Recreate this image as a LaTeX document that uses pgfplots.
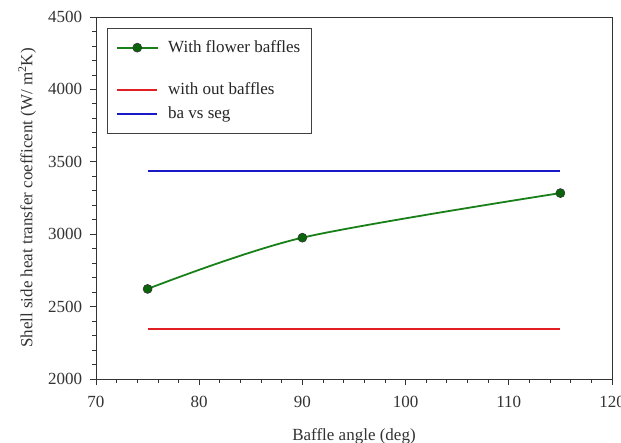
\documentclass[border=0pt]{standalone}
\usepackage{fontspec}
\setmainfont{Liberation Serif}
\usepackage{pgfplots}
\pgfplotsset{compat=1.18}
\definecolor{cgreen}{RGB}{25,128,25}
\definecolor{cmark}{RGB}{10,100,10}
\definecolor{cred}{RGB}{225,30,35}
\definecolor{cblue}{RGB}{25,25,200}
\begin{document}
\fontsize{17}{20}\selectfont
\begin{tikzpicture}
\useasboundingbox (-96pt,-63pt) rectangle (525pt,379pt);
\begin{axis}[
 at={(0,0)}, anchor=south west,
 scale only axis, width=516pt, height=362pt,
 xmin=70,xmax=120,ymin=2000,ymax=4500,
 xtick={70,80,...,120}, ytick={2000,2500,...,4500},
 minor x tick num=4, minor y tick num=4,
 tick align=outside, tick pos=left,
 major tick length=6pt, minor tick length=3.5pt,
 axis line style={draw=black!80, line width=0.8pt},
 every tick/.style={black!80, line width=0.8pt},
 /pgf/number format/assume math mode=true,
 /pgf/number format/1000 sep={},
 tick label style={font=\fontsize{17}{20}\selectfont, text=black!80},
 xticklabel style={yshift=-5pt},
 yticklabel style={xshift=-2pt},
 label style={font=\fontsize{17}{20}\selectfont, text=black!80},
 xlabel={Baffle angle (deg)},
 ylabel={Shell side heat transfer coefficent (W/ m\textsuperscript{2}K)},
 xlabel style={at={(axis description cs:0.5,-0.1575)}, anchor=center},
 ylabel style={at={(axis description cs:-0.1337,0.5)}, anchor=center},
 legend style={at={(axis description cs:0.0213,0.9696)}, anchor=north west,
   draw=black!75, line width=0.8pt, inner xsep=9pt, inner ysep=10pt,
   font=\fontsize{17}{20}\selectfont, text=black!85, cells={anchor=west}, row sep=6pt, column sep=8pt},
 legend image code/.code={\draw[mark repeat=2,mark phase=2,#1] plot coordinates {(0pt,0pt)(20pt,0pt)(40pt,0pt)};},
]
\addplot[cgreen, smooth, mark=*, mark size=4.5pt, mark options={fill=cmark, draw=black!80, line width=0.6pt}, line width=1.8pt]
  coordinates {(75,2622) (90,2976) (115,3284)};
\addlegendentry{With flower baffles}
\addlegendimage{empty legend}
\addlegendentry{\rule{0pt}{5pt}}
\addplot[cred, line width=1.8pt] coordinates {(75,2348) (115,2348)};
\addlegendentry{with out baffles}
\addplot[cblue, line width=1.8pt] coordinates {(75,3434) (115,3434)};
\addlegendentry{ba vs seg}
\end{axis}
\end{tikzpicture}
\end{document}
